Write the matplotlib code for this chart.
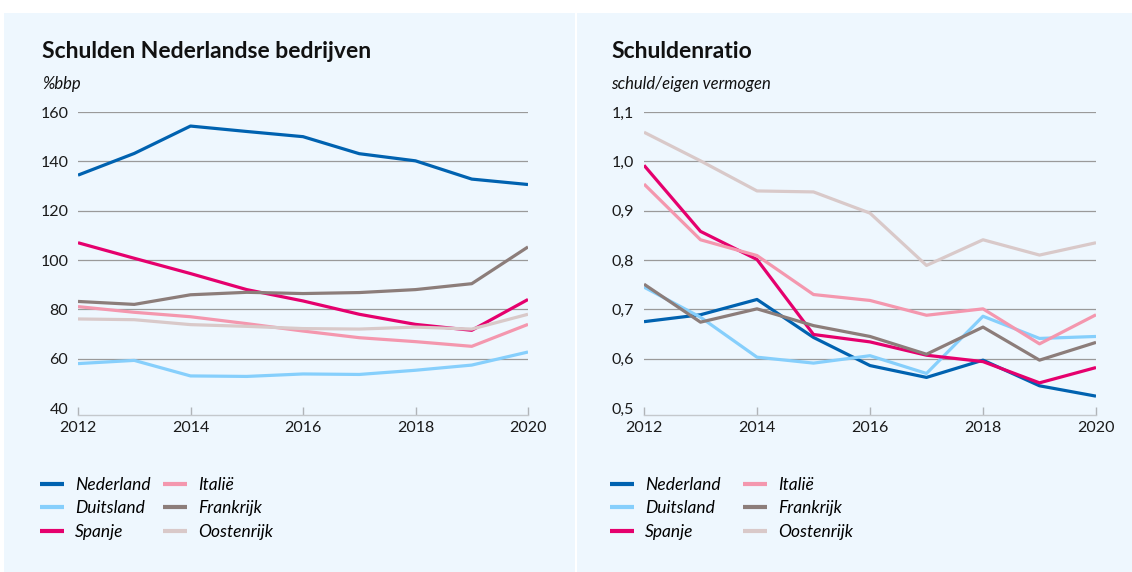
import matplotlib
matplotlib.use("Agg")
import matplotlib.pyplot as plt
from matplotlib.patches import Rectangle
from matplotlib.lines import Line2D
from matplotlib.ticker import FuncFormatter

plt.rcParams['font.family'] = ['Lato', 'DejaVu Sans']

years = [2012, 2013, 2014, 2015, 2016, 2017, 2018, 2019, 2020]
countries = ["Nederland", "Duitsland", "Spanje", "Italië", "Frankrijk", "Oostenrijk"]

# Schulden Nederlandse bedrijven (% bbp)
debt_nl = [134.4, 143.2, 154.3, 152.1, 150.0, 143.1, 140.2, 132.8, 130.6]
debt_de = [58.0, 59.3, 53.0, 52.8, 53.8, 53.6, 55.3, 57.4, 62.7]
debt_es = [107.0, 100.7, 94.5, 88.0, 83.4, 78.0, 73.9, 71.5, 84.0]
debt_it = [81.1, 78.8, 77.0, 74.2, 71.2, 68.5, 66.9, 65.0, 73.9]
debt_fr = [83.2, 82.0, 85.9, 86.9, 86.4, 86.8, 88.0, 90.4, 105.3]
debt_at = [76.1, 75.8, 73.8, 73.1, 72.2, 72.0, 72.8, 72.0, 78.0]

# Schuldenratio (schuld/eigen vermogen)
ratio_nl = [0.675, 0.689, 0.720, 0.643, 0.586, 0.562, 0.597, 0.545, 0.524]
ratio_de = [0.745, 0.684, 0.603, 0.591, 0.606, 0.570, 0.686, 0.641, 0.645]
ratio_es = [0.992, 0.858, 0.801, 0.649, 0.634, 0.607, 0.594, 0.551, 0.582]
ratio_it = [0.954, 0.841, 0.809, 0.730, 0.718, 0.688, 0.701, 0.630, 0.689]
ratio_fr = [0.751, 0.674, 0.701, 0.667, 0.645, 0.609, 0.664, 0.597, 0.633]
ratio_at = [1.059, 1.001, 0.940, 0.938, 0.895, 0.789, 0.841, 0.810, 0.835]

colors = ["#0062b0", "#86cffc", "#e5006d", "#f497ae", "#8c7d7a", "#d9c9c9"]

W, H = 1132, 572
fig = plt.figure(figsize=(W / 100, H / 100), dpi=100)
fig.patch.set_facecolor("white")
panel = "#eef7fe"
for x0, x1 in ((4, 575), (577, W)):
    r = Rectangle((x0 / W, 0), (x1 - x0) / W, (H - 13) / H,
                  transform=fig.transFigure, facecolor=panel, edgecolor="none", zorder=-10)
    fig.add_artist(r)


def make_axes(x0, x1, y_top, y_bot):
    ax = fig.add_axes([x0 / W, (H - y_bot) / H, (x1 - x0) / W, (y_bot - y_top) / H])
    ax.set_facecolor("none")
    ax.set_zorder(1)
    return ax


def style(ax, yticks, ymin, ymax, fmt):
    ax.set_xlim(years[0], years[-1])
    ax.set_ylim(ymin, ymax)
    ax.set_yticks(yticks)
    ax.set_xticks([2012, 2014, 2016, 2018, 2020])
    ax.yaxis.set_major_formatter(FuncFormatter(fmt))
    for s in ["top", "right", "left"]:
        ax.spines[s].set_visible(False)
    ax.spines["bottom"].set_position(("outward", 5))
    ax.spines["bottom"].set_color("#c4c8cc")
    ax.spines["bottom"].set_linewidth(1.0)
    ax.tick_params(axis="y", length=0, pad=7, labelsize=11.5, labelcolor="#1a1a1a")
    ax.tick_params(axis="x", direction="in", length=6, width=1.0, color="#b0b4b8",
                   pad=4.5, labelsize=11.5, labelcolor="#1a1a1a")
    for t in yticks[1:]:
        ax.axhline(t, color="#9a9a9a", linewidth=0.9, zorder=1)


def legend(x_line, x_col2, y_first):
    hs = [Line2D([], [], color=c, linewidth=3.0, solid_capstyle="butt") for c in colors]
    for col, start in ((0, x_line), (1, x_col2)):
        fig.legend(hs[col * 3:col * 3 + 3], countries[col * 3:col * 3 + 3],
                   loc="upper left", bbox_to_anchor=(start / W, 1 - y_first / H),
                   frameon=False, borderpad=0, borderaxespad=0,
                   handlelength=1.4, handletextpad=0.6,
                   labelspacing=0.42,
                   prop={"style": "italic", "size": 12.5})


# Left panel
axL = make_axes(78, 528, 112, 408)
for vals, c in zip([debt_nl, debt_de, debt_es, debt_it, debt_fr, debt_at], colors):
    axL.plot(years, vals, color=c, linewidth=2.3, zorder=3, solid_capstyle="butt")
style(axL, [40, 60, 80, 100, 120, 140, 160], 40, 160, lambda v, p: f"{int(v)}")
fig.text(42 / W, 1 - 51 / H, "Schulden Nederlandse bedrijven", fontsize=16.5, fontweight="bold",
         va="center", ha="left", color="#111111")
fig.text(42 / W, 1 - 84 / H, "%bbp", fontsize=12, style="italic", va="center", ha="left",
         color="#111111")
legend(40, 163, 477)

# Right panel
axR = make_axes(644, 1096, 112, 408)
for vals, c in zip([ratio_nl, ratio_de, ratio_es, ratio_it, ratio_fr, ratio_at], colors):
    axR.plot(years, vals, color=c, linewidth=2.3, zorder=3, solid_capstyle="butt")
style(axR, [0.5, 0.6, 0.7, 0.8, 0.9, 1.0, 1.1], 0.5, 1.1,
      lambda v, p: f"{v:.1f}".replace(".", ","))
fig.text(611 / W, 1 - 51 / H, "Schuldenratio", fontsize=16.5, fontweight="bold",
         va="center", ha="left", color="#111111")
fig.text(611 / W, 1 - 84 / H, "schuld/eigen vermogen", fontsize=12, style="italic",
         va="center", ha="left", color="#111111")
legend(610, 743, 477)

fig.savefig("out.png", dpi=100, facecolor="white")
